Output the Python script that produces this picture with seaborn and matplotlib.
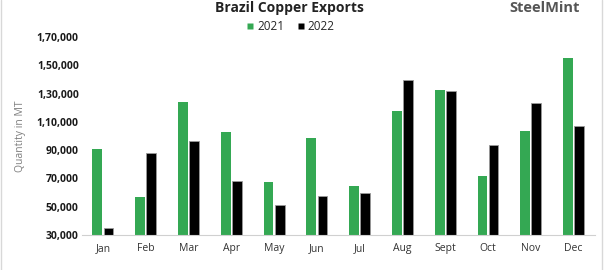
import matplotlib
matplotlib.use("Agg")
import matplotlib.pyplot as plt
import seaborn as sns
import pandas as pd
from matplotlib.lines import Line2D
from matplotlib.ticker import FixedLocator

months = ["Jan", "Feb", "Mar", "Apr", "May", "Jun", "Jul", "Aug", "Sept", "Oct", "Nov", "Dec"]
exports_2021 = [91000, 57000, 124000, 103000, 67500, 98500, 64500, 118000, 132500, 71500, 103500, 155000]
exports_2022 = [35000, 88000, 96500, 68000, 51000, 57500, 59500, 139500, 132000, 93500, 123500, 107000]
years = ["2021", "2022"]
yticks = [30000, 50000, 70000, 90000, 110000, 130000, 150000, 170000]
ytick_labels = ["30,000", "50,000", "70,000", "90,000", "1,10,000", "1,30,000", "1,50,000", "1,70,000"]

df = pd.DataFrame({
    "Month": months * 2,
    "Year": [years[0]] * len(months) + [years[1]] * len(months),
    "Qty": exports_2021 + exports_2022,
})

sns.set_theme(style="white")
plt.rcParams["font.family"] = ["Open Sans", "DejaVu Sans"]

fig = plt.figure(figsize=(6.04, 2.70), dpi=100)
ax = fig.add_axes([0.135, 0.1296, 0.85, 0.7334])

green = "#34a853"
palette = {"2021": green, "2022": "#000000"}
sns.barplot(data=df, x="Month", y="Qty", hue="Year", order=months, hue_order=years,
            palette=palette, width=0.52, gap=0.12, ax=ax, legend=False,
            saturation=1, edgecolor="none")
for bar in ax.containers[1]:
    bar.set_edgecolor("#9a9a9a")
    bar.set_linewidth(0.6)

ax.set_ylim(30000, 170000)
ax.set_xlim(-0.5, 11.5)
ax.yaxis.set_major_locator(FixedLocator(yticks))
ax.set_yticklabels(ytick_labels, fontsize=7.5, fontweight="bold", color="#1a1a1a")
ax.tick_params(axis="y", length=0, pad=2)
ax.tick_params(axis="x", length=0, pad=6, labelsize=7.5, colors="#333333")
ax.set_xlabel("")
ax.set_ylabel("Quantity in MT", fontsize=7.5, color="#7f7f7f", labelpad=8)
for s in ["left", "right", "top"]:
    ax.spines[s].set_visible(False)
ax.spines["bottom"].set_color("#d0d0d0")
ax.spines["bottom"].set_linewidth(0.8)

handles = [Line2D([0], [0], marker="s", color="none", markerfacecolor=c, markeredgecolor="none",
                  markersize=5) for c in [green, "#000000"]]
fig.legend(handles, years, loc="center", bbox_to_anchor=(0.48, 0.9), ncol=2, frameon=False,
           fontsize=8.5, handlelength=0.8, handletextpad=0.2, columnspacing=1.0)

fig.text(0.48, 1 - 1 / 270, "Brazil Copper Exports", ha="center", va="top",
         fontsize=10, fontweight="bold", color="#222222")
fig.text(0.96, 1 - 1 / 270, "SteelMint", ha="right", va="top",
         fontsize=10.5, fontweight="bold", color="#555555")

fig.add_artist(Line2D([0.5 / 604, 0.5 / 604], [0, 1], color="#d8d8d8", lw=1, transform=fig.transFigure))
fig.add_artist(Line2D([1 - 2 / 604, 1 - 2 / 604], [0, 1], color="#d8d8d8", lw=1, transform=fig.transFigure))

fig.savefig("out.png", dpi=100)
